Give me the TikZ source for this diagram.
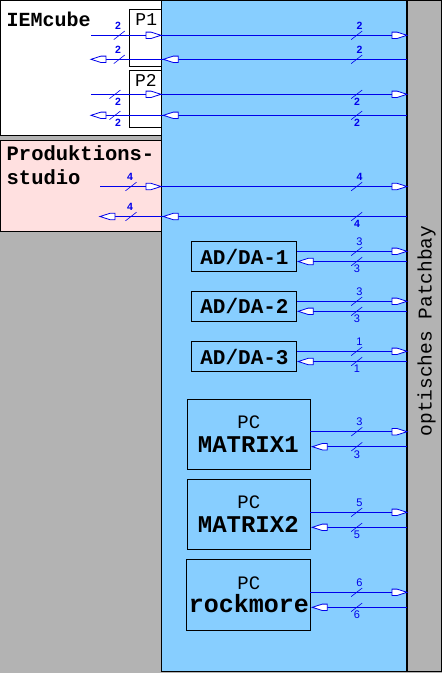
\documentclass[tikz,border=0pt]{standalone}
\usepackage{fontspec}
\setmainfont{Liberation Sans}
\newfontfamily\cour{Liberation Mono}
\definecolor{bgray}{RGB}{179,179,179}
\definecolor{skyb}{RGB}{135,206,255}
\definecolor{pinkb}{RGB}{255,224,224}
\definecolor{lblue}{RGB}{0,0,235}
\tikzset{
  box/.style={draw=black, line width=1pt, inner sep=0pt, outer sep=0pt, anchor=north west},
  lin/.style={draw=lblue, line width=0.9pt},
  tipst/.style={fill=white, draw=lblue, line width=0.8pt, line join=miter},
  sl/.style={draw=lblue, line width=0.6pt},
  labb/.style={text=lblue, inner sep=0pt, font=\fontsize{10.5}{10.5}\selectfont\bfseries},
  labr/.style={text=lblue, inner sep=0pt, font=\fontsize{11}{11}\selectfont},
  tbig/.style={inner sep=0pt, font=\cour\bfseries\fontsize{#1}{#1}\selectfont},
  tsm/.style={inner sep=0pt, font=\cour\fontsize{#1}{#1}\selectfont}
}
% arrowhead (open pencil shape) at a named point; #2 = 1 points right, -1 points left
\newcommand\ptip[2]{\path[tipst] (#1) -- ++({-10*#2},-3.2) -- ++({-5*#2},0) -- ++(0,6.4) -- ++({5*#2},0) -- cycle;}
% slash with label above / below : x, y, label, style, label x
\newcommand\bundup[5]{%
  \draw[sl] ({#1-5.5},{#2+4.3}) -- ({#1+5.5},{#2-4.3});
  \node[#4, anchor=south] at ({#5},{#2-5.5}) {#3};}
\newcommand\bunddn[5]{%
  \draw[sl] ({#1-5.5},{#2+4.3}) -- ({#1+5.5},{#2-4.3});
  \node[#4, anchor=north] at ({#5},{#2+3.5}) {#3};}
\begin{document}
\begin{tikzpicture}[x=1pt,y=-1pt]
\useasboundingbox (0,0) rectangle (442,673);
\fill[bgray] (0,0) rectangle (442,673);
% regions
\node[box, fill=white, minimum width=160.5pt, minimum height=134.5pt] (iem) at (0.5,0.5) {};
\node[box, fill=pinkb, minimum width=160.5pt, minimum height=91pt] (prod) at (0.5,140) {};
\node[box, fill=skyb, minimum width=246pt, minimum height=671pt] (blue) at (161,0.5) {};
\node[box, fill=bgray, line width=1.4pt, minimum width=34.5pt, minimum height=671pt] (patch) at (407,0.5) {};
\node[box, fill=white, minimum width=32pt, minimum height=57pt] (P1) at (129,9.3) {};
\node[box, fill=white, minimum width=32pt, minimum height=57pt] (P2) at (129,70) {};
% devices
\node[box, minimum width=105.7pt, minimum height=30pt] (adda1) at (191,241.7) {};
\node[box, minimum width=105.7pt, minimum height=30pt] (adda2) at (191,291.3) {};
\node[box, minimum width=105.7pt, minimum height=30pt] (adda3) at (191,341.7) {};
\node[box, minimum width=123pt, minimum height=70pt] (pc1) at (187.3,399.3) {};
\node[box, minimum width=123pt, minimum height=70pt] (pc2) at (187.3,479.3) {};
\node[box, minimum width=124pt, minimum height=70.7pt] (pc3) at (186.3,559.3) {};
% texts
\node[tbig=20, anchor=base west] (tiem) at (6.5,26) {IEMcube};
\node[tbig=20.5, anchor=base west] (tprod1) at (6.5,160) {Produktions-};
\node[tbig=20.5, anchor=base west] (tprod2) at (6.5,184) {studio};
\node[tsm=18, anchor=base] (tp1) at (146.3,25.3) {P1};
\node[tsm=18, anchor=base] (tp2) at (146,86.3) {P2};
\node[tbig=21, anchor=base] (ta1) at (244.5,264.3) {AD/DA-1};
\node[tbig=21, anchor=base] (ta2) at (244.5,313.9) {AD/DA-2};
\node[tbig=21, anchor=base] (ta3) at (244.5,364.3) {AD/DA-3};
\node[tsm=19, anchor=base] (tpc1) at (248.8,428.3) {PC};
\node[tbig=24, anchor=base] (tm1) at (248.3,452.7) {MATRIX1};
\node[tsm=19, anchor=base] (tpc2) at (248.8,508.3) {PC};
\node[tbig=24, anchor=base] (tm2) at (248.3,532.7) {MATRIX2};
\node[tsm=19, anchor=base] (tpc3) at (248.8,589.3) {PC};
\node[tbig=25, anchor=base] (tr) at (249,612.7) {rockmore};
\node[tsm=19.5, anchor=base, rotate=90] (tpatch) at (431.5,331) {optisches Patchbay};
% points on the patchbay side
\coordinate (r1) at (407,35.3);
\coordinate (r2) at (407,59.3);
\coordinate (r3) at (407,94.3);
\coordinate (r4) at (407,115.3);
\coordinate (r5) at (407,186.5);
\coordinate (r6) at (407,216.5);
\coordinate (a1o) at (407,251.3);
\coordinate (a1i) at (407,261.5);
\coordinate (a2o) at (407,301.3);
\coordinate (a2i) at (407,311.3);
\coordinate (a3o) at (407,351.3);
\coordinate (a3i) at (407,361.5);
\coordinate (p1o) at (407,431.7);
\coordinate (p1i) at (407,446.7);
\coordinate (p2o) at (407,512.3);
\coordinate (p2i) at (407,527.3);
\coordinate (p3o) at (407,592.3);
\coordinate (p3i) at (407,607.3);
% free ends on the left
\coordinate (l1) at (91,35.3);
\coordinate (l2) at (91,59.3);
\coordinate (l3) at (91,94.3);
\coordinate (l4) at (91,115.3);
\coordinate (l5) at (100,186.5);
\coordinate (l6) at (100,216.5);
% mid points at the studio boundary
\path (P1.east |- r1) coordinate (m1);
\path (P1.east |- r2) ++(2.3,0) coordinate (m2);
\path (P2.east |- r3) coordinate (m3);
\path (P2.east |- r4) ++(2.3,0) coordinate (m4);
\path (prod.east |- r5) coordinate (m5);
\path (prod.east |- r6) ++(2.3,0) coordinate (m6);
% device side points
\path (adda1.east |- a1o) coordinate (d1o);
\path (adda1.east |- a1i) ++(1.5,0) coordinate (d1i);
\path (adda2.east |- a2o) coordinate (d2o);
\path (adda2.east |- a2i) ++(1.5,0) coordinate (d2i);
\path (adda3.east |- a3o) coordinate (d3o);
\path (adda3.east |- a3i) ++(1.5,0) coordinate (d3i);
\path (pc1.east |- p1o) coordinate (c1o);
\path (pc1.east |- p1i) ++(2,0) coordinate (c1i);
\path (pc2.east |- p2o) coordinate (c2o);
\path (pc2.east |- p2i) ++(2,0) coordinate (c2i);
\path (pc3.east |- p3o) coordinate (c3o);
\path (pc3.east |- p3i) ++(2,0) coordinate (c3i);
% connectors
\draw[lin] (l1) -- (m1) -- (r1);
\draw[lin] (r2) -- (m2) -- (l2);
\draw[lin] (l3) -- (m3) -- (r3);
\draw[lin] (r4) -- (m4) -- (l4);
\draw[lin] (l5) -- (m5) -- (r5);
\draw[lin] (r6) -- (m6) -- (l6);
\draw[lin] (d1o) -- (a1o);  \draw[lin] (a1i) -- (d1i);
\draw[lin] (d2o) -- (a2o);  \draw[lin] (a2i) -- (d2i);
\draw[lin] (d3o) -- (a3o);  \draw[lin] (a3i) -- (d3i);
\draw[lin] (c1o) -- (p1o);  \draw[lin] (p1i) -- (c1i);
\draw[lin] (c2o) -- (p2o);  \draw[lin] (p2i) -- (c2i);
\draw[lin] (c3o) -- (p3o);  \draw[lin] (p3i) -- (c3i);
% arrowheads
\ptip{m1}{1} \ptip{r1}{1} \ptip{m2}{-1} \ptip{l2}{-1}
\ptip{m3}{1} \ptip{r3}{1} \ptip{m4}{-1} \ptip{l4}{-1}
\ptip{m5}{1} \ptip{r5}{1} \ptip{m6}{-1} \ptip{l6}{-1}
\ptip{a1o}{1} \ptip{d1i}{-1} \ptip{a2o}{1} \ptip{d2i}{-1} \ptip{a3o}{1} \ptip{d3i}{-1}
\ptip{p1o}{1} \ptip{c1i}{-1} \ptip{p2o}{1} \ptip{c2i}{-1} \ptip{p3o}{1} \ptip{c3i}{-1}
% bundle marks
\bundup{119.3}{35.3}{2}{labb}{118}
\bundup{119.3}{59.3}{2}{labb}{118}
\bunddn{115}{94.3}{2}{labb}{118}
\bunddn{115}{115.3}{2}{labb}{118}
\bundup{356.7}{35.3}{2}{labb}{359.5}
\bundup{356.7}{59.3}{2}{labb}{359.5}
\bunddn{356.7}{94.3}{2}{labb}{357}
\bunddn{356.7}{115.3}{2}{labb}{357}
\bundup{131}{186.5}{4}{labb}{130}
\bundup{131}{216.5}{4}{labb}{130}
\bundup{356.7}{186.5}{4}{labb}{359.5}
\bunddn{356.7}{216.5}{4}{labb}{357}
\bundup{356.7}{251.3}{3}{labr}{359.5}
\bunddn{356.7}{261.5}{3}{labr}{357}
\bundup{356.7}{301.3}{3}{labr}{359.5}
\bunddn{356.7}{311.3}{3}{labr}{357}
\bundup{356.7}{351.3}{1}{labr}{359.5}
\bunddn{356.7}{361.5}{1}{labr}{357}
\bundup{356.7}{431.7}{3}{labr}{359.5}
\bunddn{356.7}{446.7}{3}{labr}{357}
\bundup{356.7}{512.3}{5}{labr}{359.5}
\bunddn{356.7}{527.3}{5}{labr}{357}
\bundup{356.7}{592.3}{6}{labr}{359.5}
\bunddn{356.7}{607.3}{6}{labr}{357}
\end{tikzpicture}
\end{document}
